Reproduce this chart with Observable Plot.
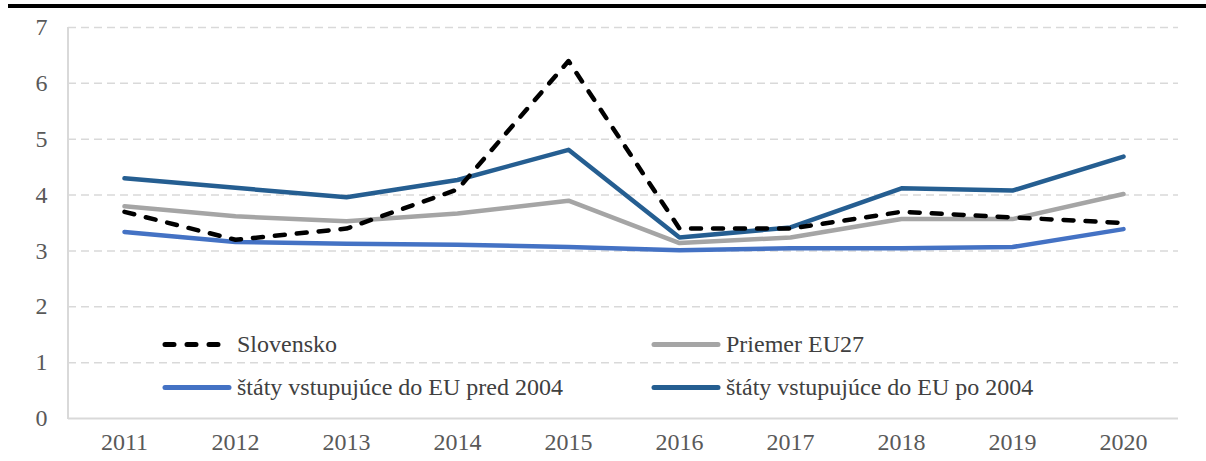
<!DOCTYPE html>
<html>
<head>
<meta charset="utf-8">
<script src="https://cdn.jsdelivr.net/npm/d3@7"></script>
<script src="https://cdn.jsdelivr.net/npm/@observablehq/plot@0.6"></script>
<style>
  html, body { margin: 0; padding: 0; background: #fff; }
  #wrap { position: relative; width: 1206px; height: 461px; overflow: hidden; font-family: 'Liberation Serif', 'DejaVu Serif', serif; }
  #topRule { position: absolute; left: 8px; right: 0; top: 4px; height: 4px; background: #000; }
  .leg { position: absolute; display: flex; align-items: center; font-size: 24px; color: #404040; white-space: nowrap; transform: translateY(-50%); }
  .leg svg { margin-right: 5px; }
</style>
</head>
<body>
<div id="wrap"><div id="topRule"></div></div>
<script>
const years = ["2011","2012","2013","2014","2015","2016","2017","2018","2019","2020"];
const seriesNames = ["Slovensko", "Priemer EU27", "štáty vstupujúce do EU pred 2004", "štáty vstupujúce do EU po 2004"];
const slovensko = [3.7, 3.2, 3.4, 4.1, 6.4, 3.4, 3.4, 3.7, 3.6, 3.5];
const eu27 = [3.80, 3.62, 3.53, 3.67, 3.90, 3.14, 3.24, 3.57, 3.57, 4.02];
const pred2004 = [3.34, 3.16, 3.13, 3.11, 3.07, 3.01, 3.05, 3.05, 3.07, 3.39];
const po2004 = [4.30, 4.13, 3.96, 4.27, 4.81, 3.24, 3.42, 4.12, 4.08, 4.69];
const yTicks = [0, 1, 2, 3, 4, 5, 6, 7];

const colors = ["#000000", "#A5A5A5", "#4472C4", "#255E91"];
const allValues = [slovensko, eu27, pred2004, po2004];
const rows = [];
allValues.forEach((vals, si) => vals.forEach((v, i) => rows.push({series: seriesNames[si], year: years[i], value: v})));

const FONT = "'Liberation Serif', 'DejaVu Serif', serif";
const solidOrder = [1, 2, 3];
const W = 1206, H = 461;
const chart = Plot.plot({
  width: W, height: H,
  marginLeft: 68, marginRight: 28, marginTop: 27, marginBottom: 43,
  style: {fontFamily: FONT, fontSize: "24px", color: "#595959", background: "transparent"},
  x: {type: "point", domain: years, padding: 0.5, label: null},
  y: {domain: [0, 7], ticks: yTicks, label: null},
  marks: [
    Plot.gridY(yTicks.filter(t => t > 0), {stroke: "#d9d9d9", strokeOpacity: 1, strokeWidth: 1.5, strokeDasharray: "8,5"}),
    Plot.axisY(yTicks, {tickSize: 0, tickPadding: 21, fill: "#595959", fontSize: 24, fontFamily: FONT, tickFormat: d3.format("d")}),
    Plot.axisX(years, {tickSize: 0, tickPadding: 14, fill: "#595959", fontSize: 24, fontFamily: FONT}),
    Plot.ruleY([0], {stroke: "#d9d9d9", strokeWidth: 2}),
    ...solidOrder.map(si => Plot.line(rows.filter(d => d.series === seriesNames[si]), {
      x: "year", y: "value", stroke: colors[si], strokeWidth: 4.5, strokeLinejoin: "round", strokeLinecap: "round"
    })),
    Plot.line(rows.filter(d => d.series === seriesNames[0]), {
      x: "year", y: "value", stroke: colors[0], strokeWidth: 4.5, strokeDasharray: "10,12", strokeLinecap: "round", strokeLinejoin: "round"
    })
  ]
});

const ns = "http://www.w3.org/2000/svg";
const left = document.createElementNS(ns, "line");
left.setAttribute("x1", 68); left.setAttribute("x2", 68);
left.setAttribute("y1", 27); left.setAttribute("y2", 419);
left.setAttribute("stroke", "#d9d9d9"); left.setAttribute("stroke-width", 2);
chart.appendChild(left);

const wrap = document.getElementById("wrap");
chart.style.position = "absolute"; chart.style.left = "0"; chart.style.top = "0";
wrap.appendChild(chart);

const legendPos = [[162, 344], [651, 344], [162, 387], [651, 387]];
seriesNames.forEach((name, i) => {
  const d = document.createElement("div");
  d.className = "leg";
  d.style.left = legendPos[i][0] + "px";
  d.style.top = legendPos[i][1] + "px";
  const dash = i === 0 ? 'stroke-dasharray="9,13"' : '';
  d.innerHTML = `<svg width="70" height="10"><line x1="3" x2="${i === 0 ? 63 : 67}" y1="5" y2="5" stroke="${colors[i]}" stroke-width="5" stroke-linecap="round" ${dash}/></svg><span>${name}</span>`;
  wrap.appendChild(d);
});
</script>
</body>
</html>
